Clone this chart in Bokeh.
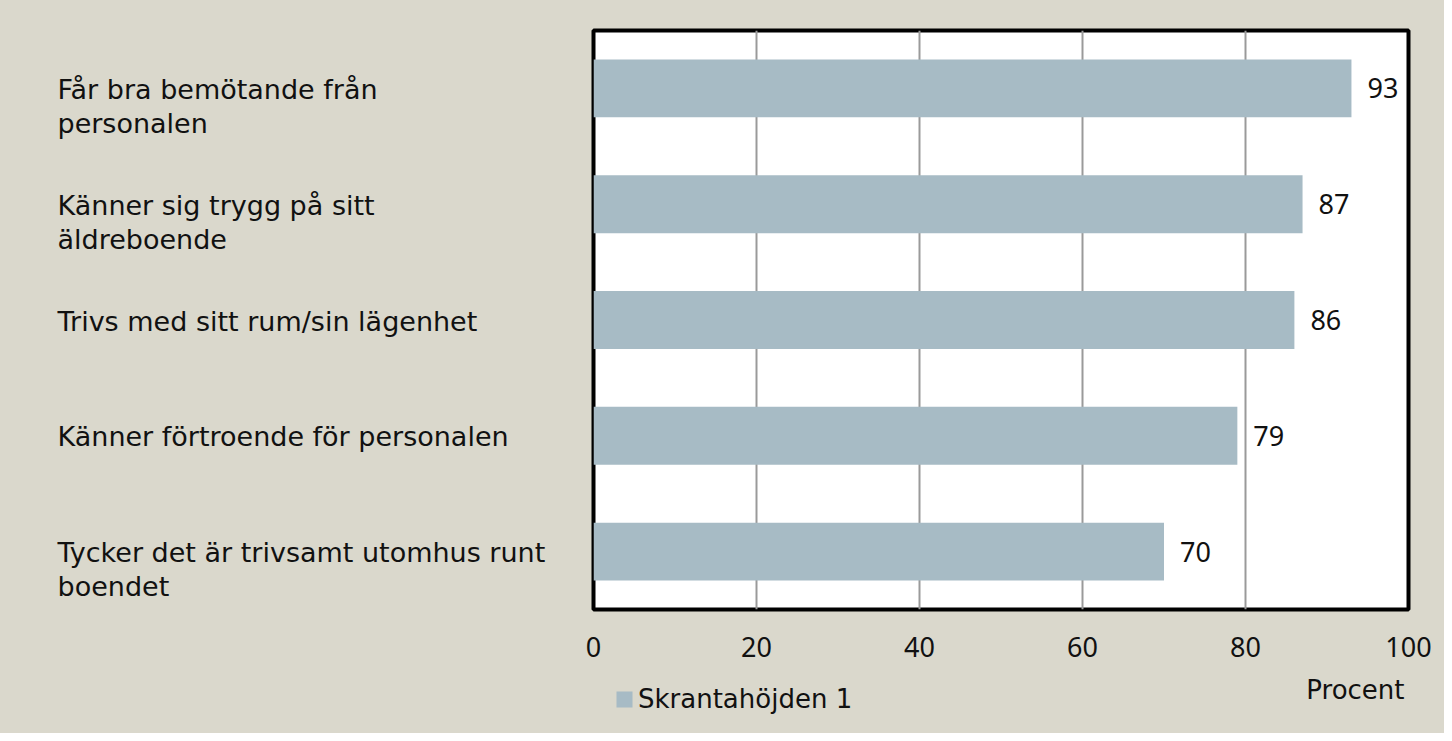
from bokeh.plotting import figure
from bokeh.layouts import row, column
from bokeh.models import (ColumnDataSource, LabelSet, Label, Legend, LegendItem,
                          FactorRange, Range1d, FixedTicker)
from bokeh.core.properties import value
from bokeh.embed import file_html
from bokeh.resources import INLINE

# ---- data ----
categories = [
    "Får bra bemötande från personalen",
    "Känner sig trygg på sitt äldreboende",
    "Trivs med sitt rum/sin lägenhet",
    "Känner förtroende för personalen",
    "Tycker det är trivsamt utomhus runt boendet",
]
label_lines = [
    ["Får bra bemötande från", "personalen"],
    ["Känner sig trygg på sitt", "äldreboende"],
    ["Trivs med sitt rum/sin lägenhet"],
    ["Känner förtroende för personalen"],
    ["Tycker det är trivsamt utomhus runt", "boendet"],
]
values = [93, 87, 86, 79, 70]
series_name = "Skrantahöjden 1"
x_ticks = [0, 20, 40, 60, 80, 100]
x_axis_title = "Procent"

# ---- layout / style ----
W, H = 1444, 733
FRAME_LEFT = 593          # canvas x of plot-area left edge
P_PAD_LEFT = 20           # main figure's own left border
RIGHT, TOP = 36, 30
FRAME_H = 579
TOP_H = 671               # height of the upper row
BOT_H = H - TOP_H         # bottom strip (legend + axis title)
BG = "#dad8cc"
BAR = "#a7bbc5"
TXT = "#111111"
LABEL_FONT = "DejaVu Sans"
NUM_FONT = "Noto Sans"
X_MIN, X_MAX = 0, 100
LF_W = FRAME_LEFT - P_PAD_LEFT
LABEL_LEFT_PX = 57
LINE_PITCH = 34
FIRST_LINE_OFF = 1

y_range = FactorRange(*reversed(categories))
x_range = Range1d(X_MIN, X_MAX)

# ---- main chart ----
p = figure(width=W - LF_W, height=TOP_H, x_range=x_range, y_range=y_range,
           output_backend="svg", toolbar_location=None, y_axis_location=None,
           min_border_left=P_PAD_LEFT, min_border_right=RIGHT,
           min_border_top=TOP, min_border_bottom=TOP_H - TOP - FRAME_H)
p.border_fill_color = BG
p.background_fill_color = "white"
p.outline_line_color = "black"
p.outline_line_width = 4

src = ColumnDataSource(dict(cat=categories, val=values, txt=[str(v) for v in values]))
bars = p.hbar(y="cat", left=0, right="val", height=0.5, source=src,
              fill_color=BAR, line_color=None)

p.xgrid.ticker = FixedTicker(ticks=x_ticks)
p.xgrid.grid_line_color = "#9a9a9a"
p.xgrid.grid_line_width = 2
p.ygrid.grid_line_color = None

ax = p.xaxis[0]
ax.ticker = FixedTicker(ticks=x_ticks)
ax.axis_line_color = None
ax.major_tick_line_color = None
ax.minor_tick_line_color = None
ax.major_tick_out = 0
ax.major_tick_in = 0
ax.major_label_standoff = 27
ax.major_label_text_font = NUM_FONT
ax.major_label_text_font_size = "27px"
ax.major_label_text_color = TXT

p.add_layout(LabelSet(x="val", y="cat", text="txt", source=src, x_offset=16,
                      text_baseline="middle", text_align="left",
                      text_font=value(NUM_FONT), text_font_size="27px",
                      text_color=TXT))

# ---- left strip with category labels ----
lf = figure(width=LF_W, height=TOP_H, x_range=Range1d(0, LF_W), y_range=y_range,
            output_backend="svg", toolbar_location=None,
            x_axis_location=None, y_axis_location=None,
            min_border_left=0, min_border_right=0,
            min_border_top=TOP, min_border_bottom=TOP_H - TOP - FRAME_H)
lf.border_fill_color = BG
lf.background_fill_color = None
lf.outline_line_color = None
lf.xgrid.visible = False
lf.ygrid.visible = False

rows_x, rows_y, rows_t, rows_off = [], [], [], []
for cat, lines in zip(categories, label_lines):
    for j, ln in enumerate(lines):
        rows_x.append(LABEL_LEFT_PX)
        rows_y.append(cat)
        rows_t.append(ln)
        rows_off.append(FIRST_LINE_OFF + LINE_PITCH * j)
lsrc = ColumnDataSource(dict(x=rows_x, y=rows_y, t=rows_t, off=rows_off))
lf.text(x="x", y="y", text="t", y_offset="off", source=lsrc,
        text_baseline="middle", text_align="left",
        text_font=value(LABEL_FONT), text_font_size="27px", text_color=TXT)

# ---- bottom strip: legend + axis title ----
bf = figure(width=W, height=BOT_H, x_range=x_range, y_range=Range1d(0, 1),
            output_backend="svg", toolbar_location=None,
            x_axis_location=None, y_axis_location=None,
            min_border_left=FRAME_LEFT, min_border_right=RIGHT,
            min_border_top=0, min_border_bottom=0)
bf.border_fill_color = BG
bf.background_fill_color = None
bf.outline_line_color = None
bf.xgrid.visible = False
bf.ygrid.visible = False

# legend proxy renderer (no visible geometry, only supplies the swatch style)
nan = float("nan")
swatch = bf.hbar(y=[nan], left=[nan], right=[nan], height=0.5,
                 fill_color=BAR, line_color=None)
legend = Legend(items=[LegendItem(label=series_name, renderers=[swatch])],
                location=(21, 19), orientation="horizontal",
                padding=0, margin=0, spacing=0,
                glyph_width=20, glyph_height=20, label_standoff=4,
                label_text_font=LABEL_FONT, label_text_font_size="26px",
                label_text_color=TXT,
                border_line_color=None, background_fill_alpha=0)
bf.add_layout(legend, "center")

bf.add_layout(Label(x=X_MAX, y=1 - 18 / BOT_H, x_offset=-4, text=x_axis_title,
                    text_align="right", text_baseline="middle",
                    text_font=LABEL_FONT, text_font_size="26px", text_color=TXT))

bg_style = {"background-color": BG}
layout = column(row(lf, p, styles=bg_style), bf, styles=bg_style)
open("out.html", "w").write(file_html(layout, INLINE))
